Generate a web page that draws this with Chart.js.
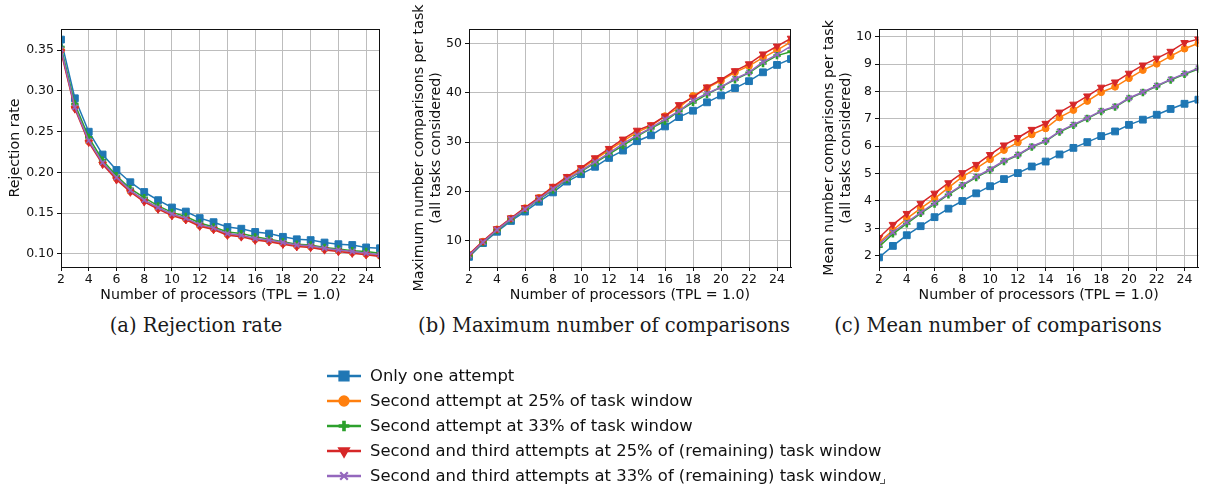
<!DOCTYPE html>
<html lang="en">
<head>
  <meta charset="UTF-8" />
  <title>Rejection rate and comparisons</title>
  <script src="https://cdn.jsdelivr.net/npm/chart.js"></script>
  <style>
    body { margin: 0; background: #fff; width: 1205px; height: 488px; position: relative; overflow: hidden; font-family: 'DejaVu Sans', sans-serif; color: #111; }
    canvas.panel { position: absolute; top: 0; }
    .caption { position: absolute; top: 314px; font-family: 'DejaVu Serif', serif; font-size: 19.5px; color: #1a1a1a; transform: translateX(-50%); white-space: nowrap; }
    #legend { position: absolute; left: 325px; top: 363px; }
    .row { height: 25px; display: flex; align-items: center; }
    .row canvas { width: 38px; height: 24px; }
    .row span { margin-left: 7px; font-size: 16.4px; white-space: nowrap; }
    #corner { position: absolute; left: 880px; top: 479px; width: 4px; height: 4px; border-right: 1px solid #555; border-bottom: 1px solid #555; }
  </style>
</head>
<body>
  <canvas id="chartA" class="panel" style="left:0px" width="400" height="310"></canvas>
  <canvas id="chartB" class="panel" style="left:400px" width="405" height="310"></canvas>
  <canvas id="chartC" class="panel" style="left:810px" width="395" height="310"></canvas>

  <div class="caption" style="left:196px">(a) Rejection rate</div>
  <div class="caption" style="left:604px">(b) Maximum number of comparisons</div>
  <div class="caption" style="left:998px">(c) Mean number of comparisons</div>

  <div id="legend"></div>
  <div id="corner"></div>

  <script>
    // number of processors
    const processors = [2,3,4,5,6,7,8,9,10,11,12,13,14,15,16,17,18,19,20,21,22,23,24,25];
    const xTicks = [2,4,6,8,10,12,14,16,18,20,22,24];

    const seriesNames = [
      'Only one attempt',
      'Second attempt at 25% of task window',
      'Second attempt at 33% of task window',
      'Second and third attempts at 25% of (remaining) task window',
      'Second and third attempts at 33% of (remaining) task window'
    ];

    // (a) rejection rate
    const rejOne = [0.363,0.291,0.250,0.222,0.203,0.188,0.176,0.166,0.157,0.152,0.144,0.139,0.133,0.131,0.127,0.125,0.121,0.118,0.117,0.114,0.112,0.111,0.108,0.107];
    const rejS25 = [0.350,0.280,0.238,0.212,0.193,0.177,0.166,0.156,0.148,0.143,0.135,0.131,0.124,0.122,0.118,0.116,0.113,0.110,0.109,0.106,0.104,0.102,0.100,0.098];
    const rejS33 = [0.354,0.284,0.243,0.215,0.196,0.180,0.169,0.159,0.151,0.146,0.138,0.133,0.127,0.125,0.121,0.118,0.115,0.112,0.111,0.108,0.106,0.104,0.103,0.101];
    const rejT25 = [0.348,0.278,0.237,0.210,0.191,0.176,0.164,0.155,0.147,0.142,0.134,0.130,0.123,0.121,0.117,0.115,0.112,0.109,0.108,0.105,0.103,0.101,0.099,0.097];
    const rejT33 = [0.351,0.280,0.239,0.212,0.194,0.178,0.166,0.157,0.149,0.144,0.136,0.132,0.125,0.123,0.119,0.117,0.114,0.111,0.110,0.107,0.105,0.103,0.101,0.099];
    const rejTicks = [0.10,0.15,0.20,0.25,0.30,0.35];

    // (b) maximum number of comparisons per task
    const maxOne = [6.7,9.5,11.8,14.0,15.9,17.9,19.8,22.0,23.5,25.0,26.8,28.3,30.2,31.4,33.2,35.1,36.4,38.1,39.5,41.0,42.4,44.2,45.7,46.9];
    const maxS25 = [7.1,9.8,12.3,14.5,16.6,18.7,20.8,22.8,24.6,26.5,28.4,30.2,32.0,33.3,35.3,37.0,39.4,41.0,42.5,44.2,45.5,47.2,48.7,50.4];
    const maxS33 = [6.9,9.6,12.1,14.3,16.3,18.4,20.3,22.4,24.0,25.8,27.6,29.3,31.2,32.8,34.3,36.3,38.1,39.7,41.2,42.7,44.1,46.0,47.6,48.4];
    const maxT25 = [7.2,9.9,12.4,14.6,16.7,18.8,21.0,23.0,24.8,26.8,28.7,30.6,32.4,33.5,35.3,37.6,39.1,41.2,42.7,44.5,45.9,47.9,49.5,51.1];
    const maxT33 = [7.0,9.7,12.2,14.4,16.4,18.5,20.5,22.5,24.2,26.0,27.8,29.7,31.4,32.9,34.7,36.3,38.5,39.9,41.2,42.9,44.2,46.3,47.8,49.5];
    const maxTicks = [10,20,30,40,50];

    // (c) mean number of comparisons per task
    const meanOne = [1.94,2.36,2.75,3.08,3.41,3.72,4.00,4.28,4.54,4.80,5.02,5.26,5.44,5.70,5.94,6.15,6.37,6.54,6.78,6.97,7.15,7.36,7.55,7.70];
    const meanS25 = [2.48,2.93,3.36,3.73,4.09,4.49,4.88,5.19,5.52,5.86,6.14,6.43,6.65,7.05,7.32,7.65,7.97,8.17,8.48,8.78,9.01,9.29,9.56,9.76];
    const meanS33 = [2.33,2.80,3.17,3.55,3.89,4.23,4.56,4.86,5.13,5.44,5.67,5.97,6.18,6.52,6.76,7.01,7.27,7.43,7.74,7.96,8.19,8.42,8.63,8.82];
    const meanT25 = [2.66,3.14,3.54,3.91,4.28,4.66,5.03,5.33,5.69,6.04,6.31,6.61,6.83,7.24,7.53,7.83,8.15,8.34,8.66,8.96,9.21,9.46,9.78,9.91];
    const meanT33 = [2.42,2.86,3.22,3.58,3.92,4.26,4.59,4.89,5.16,5.47,5.69,5.99,6.20,6.54,6.79,7.03,7.29,7.45,7.76,7.98,8.21,8.44,8.65,8.85];
    const meanTicks = [2,3,4,5,6,7,8,9,10];

    // marker look per series (matplotlib default cycle)
    const styles = [
      { color: '#1f77b4', pointStyle: 'rect', radius: 4.8, rotation: 0, bw: 1 },
      { color: '#ff7f0e', pointStyle: 'circle', radius: 3.4, rotation: 0, bw: 1 },
      { color: '#2ca02c', pointStyle: 'cross', radius: 3.7, rotation: 0, bw: 2.6 },
      { color: '#d62728', pointStyle: 'triangle', radius: 4.3, rotation: 180, bw: 1 },
      { color: '#9467bd', pointStyle: 'crossRot', radius: 3.7, rotation: 0, bw: 1.6 }
    ];

    Chart.defaults.font.family = "'DejaVu Sans', sans-serif";
    Chart.defaults.color = '#111';

    const frame = {
      id: 'frame',
      afterDraw(chart) {
        const { ctx, chartArea: a } = chart;
        ctx.save();
        ctx.strokeStyle = '#111';
        ctx.lineWidth = 1;
        ctx.strokeRect(Math.round(a.left) + 0.5, Math.round(a.top) + 0.5, Math.round(a.right - a.left) - 1, Math.round(a.bottom - a.top));
        ctx.restore();
      }
    };

    function buildDatasets(lists) {
      return lists.map((vals, i) => {
        const s = styles[i];
        return {
          label: seriesNames[i],
          data: processors.map((p, k) => ({ x: p, y: vals[k] })),
          borderColor: s.color,
          backgroundColor: s.color,
          borderWidth: 1.5,
          pointStyle: s.pointStyle,
          pointRadius: s.radius,
          pointRotation: s.rotation,
          pointBorderWidth: s.bw,
          pointBorderColor: s.color,
          pointBackgroundColor: s.color,
          tension: 0,
          clip: 0,
          order: 5 - i
        };
      });
    }

    function makeChart(id, lists, yCfg) {
      new Chart(document.getElementById(id), {
        type: 'line',
        data: { datasets: buildDatasets(lists) },
        options: {
          responsive: false,
          animation: false,
          devicePixelRatio: 1,
          layout: { padding: { top: 29, right: yCfg.padRight, left: 0, bottom: 0 } },
          plugins: { legend: { display: false }, tooltip: { enabled: false } },
          scales: {
            x: {
              type: 'linear',
              min: 2,
              max: 25,
              afterBuildTicks: (sc) => { sc.ticks = xTicks.map(v => ({ value: v })); },
              afterFit: (sc) => { sc.height = 43; },
              ticks: { font: { size: 12.5 }, padding: 1, maxRotation: 0, color: '#111' },
              grid: { color: '#bdbdbd', lineWidth: 1, tickColor: '#111', tickLength: 4 },
              border: { color: '#111', width: 1 },
              title: { display: true, text: 'Number of processors (TPL = 1.0)', font: { size: 14.2 }, padding: { top: 0, bottom: 6 }, color: '#111' }
            },
            y: {
              type: 'linear',
              min: yCfg.min,
              max: yCfg.max,
              afterBuildTicks: (sc) => { sc.ticks = yCfg.ticks.map(v => ({ value: v })); },
              afterFit: (sc) => { sc.width = yCfg.width; },
              ticks: { font: { size: 12.5 }, padding: 3, color: '#111', callback: yCfg.fmt },
              grid: { color: '#bdbdbd', lineWidth: 1, tickColor: '#111', tickLength: 4 },
              border: { color: '#111', width: 1 },
              title: { display: true, text: yCfg.title, font: { size: 14.2, lineHeight: 1.2 }, padding: { top: yCfg.titlePad, bottom: 0 }, color: '#111' }
            }
          }
        },
        plugins: [frame]
      });
    }

    makeChart('chartA', [rejOne, rejS25, rejS33, rejT25, rejT33], {
      min: 0.084, max: 0.376, ticks: rejTicks, width: 61, padRight: 20, titlePad: 6.5,
      title: 'Rejection rate', fmt: (v) => Number(v).toFixed(2)
    });
    makeChart('chartB', [maxOne, maxS25, maxS33, maxT25, maxT33], {
      min: 4.64, max: 53.0, ticks: maxTicks, width: 69, padRight: 14, titlePad: 10.5,
      title: ['Maximum number comparisons per task', '(all tasks considered)'], fmt: (v) => String(v)
    });
    makeChart('chartC', [meanOne, meanS25, meanS33, meanT25, meanT33], {
      min: 1.59, max: 10.28, ticks: meanTicks, width: 69, padRight: 4, titlePad: 10.5,
      title: ['Mean number comparisons per task', '(all tasks considered)'], fmt: (v) => String(v)
    });

    // shared legend
    const legend = document.getElementById('legend');
    seriesNames.forEach((name, i) => {
      const s = styles[i];
      const row = document.createElement('div');
      row.className = 'row';
      const c = document.createElement('canvas');
      c.width = 38; c.height = 24;
      const ctx = c.getContext('2d');
      ctx.strokeStyle = s.color;
      ctx.fillStyle = s.color;
      ctx.lineWidth = 2.5;
      ctx.beginPath();
      ctx.moveTo(2, 12); ctx.lineTo(36, 12);
      ctx.stroke();
      ctx.lineWidth = s.bw * 1.4;
      if (Chart.helpers && Chart.helpers.drawPoint) {
        Chart.helpers.drawPoint(ctx, { pointStyle: s.pointStyle, rotation: s.rotation, radius: s.radius * 1.45, borderWidth: s.bw * 1.4 }, 19, 12);
      } else {
        ctx.beginPath(); ctx.arc(19, 12, s.radius * 1.4, 0, Math.PI * 2); ctx.fill();
      }
      const t = document.createElement('span');
      t.textContent = name;
      row.appendChild(c);
      row.appendChild(t);
      legend.appendChild(row);
    });
  </script>
</body>
</html>
